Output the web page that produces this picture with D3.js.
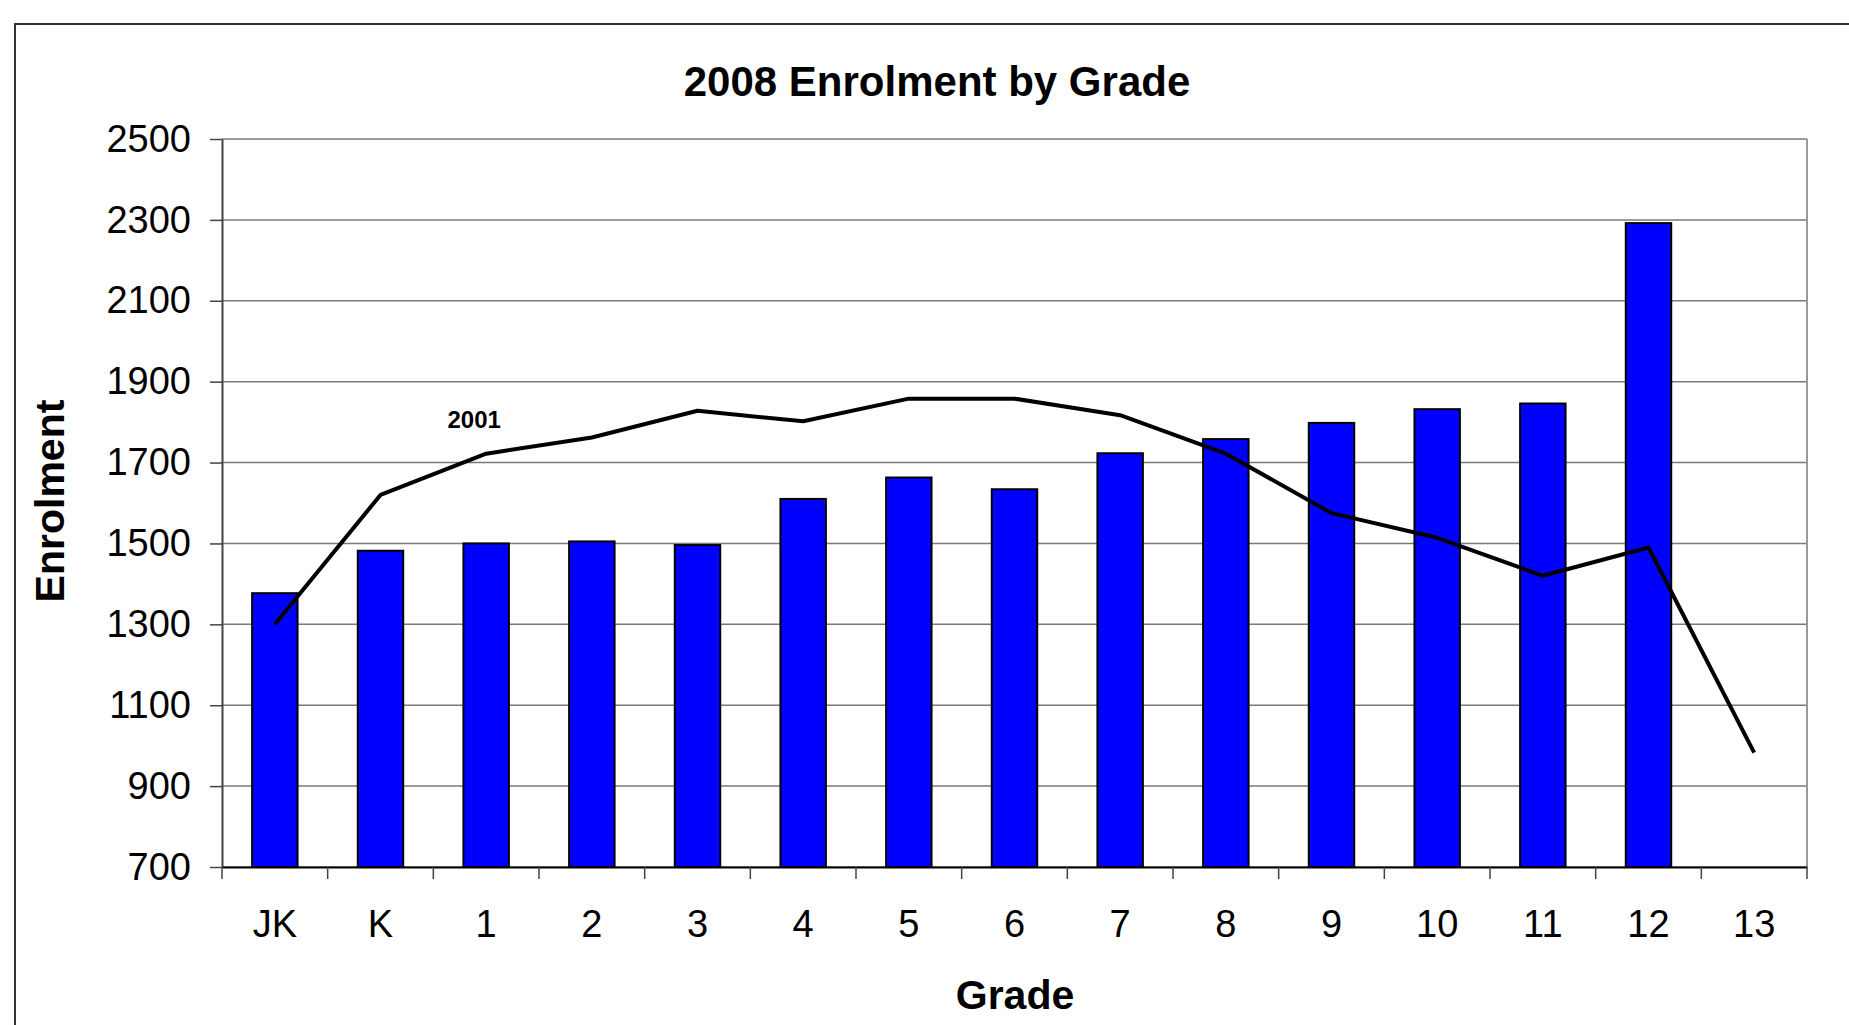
<!doctype html>
<html>
  <head>
    <script src="https://d3js.org/d3.v7.min.js"></script>
    <style>
      body { margin: 0; background: #fff; }
      text { font-family: "Liberation Sans", Arial, sans-serif; }
    </style>
  </head>
  <body>
    <div id="graphic"></div>
    <script>

// Data
  var grades = ["JK", "K", "1", "2", "3", "4", "5", "6", "7", "8", "9", "10", "11", "12", "13"];
  var enrol2008 = [1377, 1482, 1500, 1505, 1496, 1610, 1663, 1634, 1723, 1758, 1798, 1832, 1846, 2292, null];
  var enrol2001 = [1300, 1620, 1722, 1762, 1828, 1802, 1858, 1858, 1817, 1722, 1575, 1514, 1420, 1490, 983];
  var yTicks = [700, 900, 1100, 1300, 1500, 1700, 1900, 2100, 2300, 2500];

  var W = 1849, H = 1025;
  var margin = { top: 139, right: 42, bottom: 158, left: 222 };
  var width = W - margin.left - margin.right,
      height = H - margin.top - margin.bottom;

  var svg = d3.select("#graphic").append("svg")
    .attr("width", W)
    .attr("height", H);

// outer frame
  svg.append("rect")
    .attr("x", 15).attr("y", 24)
    .attr("width", 2000).attr("height", 2000)
    .style("fill", "none")
    .style("stroke", "#333")
    .style("stroke-width", "2px");

  var g = svg.append("g")
    .attr("transform", "translate(" + margin.left + "," + margin.top + ")");

  var xScale = d3.scaleBand().domain(grades).range([0, width]).paddingInner(0).paddingOuter(0);
  var yScale = d3.scaleLinear().domain([700, 2500]).range([height, 0]);
  var barW = xScale.bandwidth() * 0.43;

// gridlines
  g.append("g")
    .selectAll("line")
    .data(yTicks)
    .enter()
    .append("line")
    .attr("x1", 0).attr("x2", width)
    .attr("y1", d => yScale(d)).attr("y2", d => yScale(d))
    .style("stroke", "#7a7a7a")
    .style("stroke-width", "1.5px");

// right border of plot
  g.append("line")
    .attr("x1", width).attr("x2", width)
    .attr("y1", 0).attr("y2", height)
    .style("stroke", "#999")
    .style("stroke-width", "2px");

// bars
  var barData = grades.map((d, i) => ({ grade: d, v: enrol2008[i] })).filter(d => d.v != null);
  g.append("g")
    .selectAll("rect")
    .data(barData)
    .enter()
    .append("rect")
    .attr("x", d => xScale(d.grade) + (xScale.bandwidth() - barW) / 2)
    .attr("width", barW)
    .attr("y", d => yScale(d.v))
    .attr("height", d => height - yScale(d.v))
    .style("fill", "#0000ff")
    .style("stroke", "#000")
    .style("stroke-width", "2px");

// y axis
  var yAxis = d3.axisLeft(yScale)
    .tickValues(yTicks)
    .tickSizeInner(12)
    .tickSizeOuter(0)
    .tickPadding(19)
    .tickFormat(d3.format("d"));

  var yg = g.append("g").call(yAxis);
  yg.select(".domain").style("stroke", "#444").style("stroke-width", "2px");
  yg.selectAll(".tick line").style("stroke", "#444").style("stroke-width", "1.5px");
  yg.selectAll("text")
    .style("font-family", "'Liberation Sans', Arial, sans-serif")
    .style("font-size", "38px")
    .style("fill", "#000");

// x axis
  var xAxis = d3.axisBottom(xScale)
    .tickSize(0)
    .tickPadding(43);

  var xg = g.append("g")
    .attr("transform", "translate(0," + height + ")")
    .call(xAxis);
  xg.select(".domain").style("stroke", "#000").style("stroke-width", "2px");
  xg.selectAll("text")
    .style("font-family", "'Liberation Sans', Arial, sans-serif")
    .style("font-size", "38px")
    .style("fill", "#000");

// tick marks between categories
  xg.append("g")
    .selectAll("line")
    .data(d3.range(grades.length + 1))
    .enter()
    .append("line")
    .attr("x1", i => i * xScale.step())
    .attr("x2", i => i * xScale.step())
    .attr("y1", 0).attr("y2", 12)
    .style("stroke", "#444")
    .style("stroke-width", "1.5px");

// 2001 line
  var line = d3.line()
    .x((d, i) => xScale(grades[i]) + xScale.bandwidth() / 2)
    .y(d => yScale(d));

  g.append("path")
    .datum(enrol2001)
    .attr("d", line)
    .style("fill", "none")
    .style("stroke", "#000")
    .style("stroke-width", "4px")
    .style("stroke-linejoin", "round");

  g.append("text")
    .attr("x", xScale("1") + xScale.bandwidth() / 2 - 12)
    .attr("y", yScale(1785))
    .attr("text-anchor", "middle")
    .style("font-size", "24px")
    .style("font-weight", "bold")
    .text("2001");

// titles
  svg.append("text")
    .attr("x", 937)
    .attr("y", 96)
    .attr("text-anchor", "middle")
    .style("font-size", "42px")
    .style("font-weight", "bold")
    .text("2008 Enrolment by Grade");

  svg.append("text")
    .attr("x", 1015)
    .attr("y", 1009)
    .attr("text-anchor", "middle")
    .style("font-size", "41px")
    .style("font-weight", "bold")
    .text("Grade");

  svg.append("text")
    .attr("text-anchor", "middle")
    .attr("transform", "translate(64," + 501 + ")rotate(-90)")
    .style("font-size", "41px")
    .style("font-weight", "bold")
    .text("Enrolment");

    </script>
  </body>
</html>
